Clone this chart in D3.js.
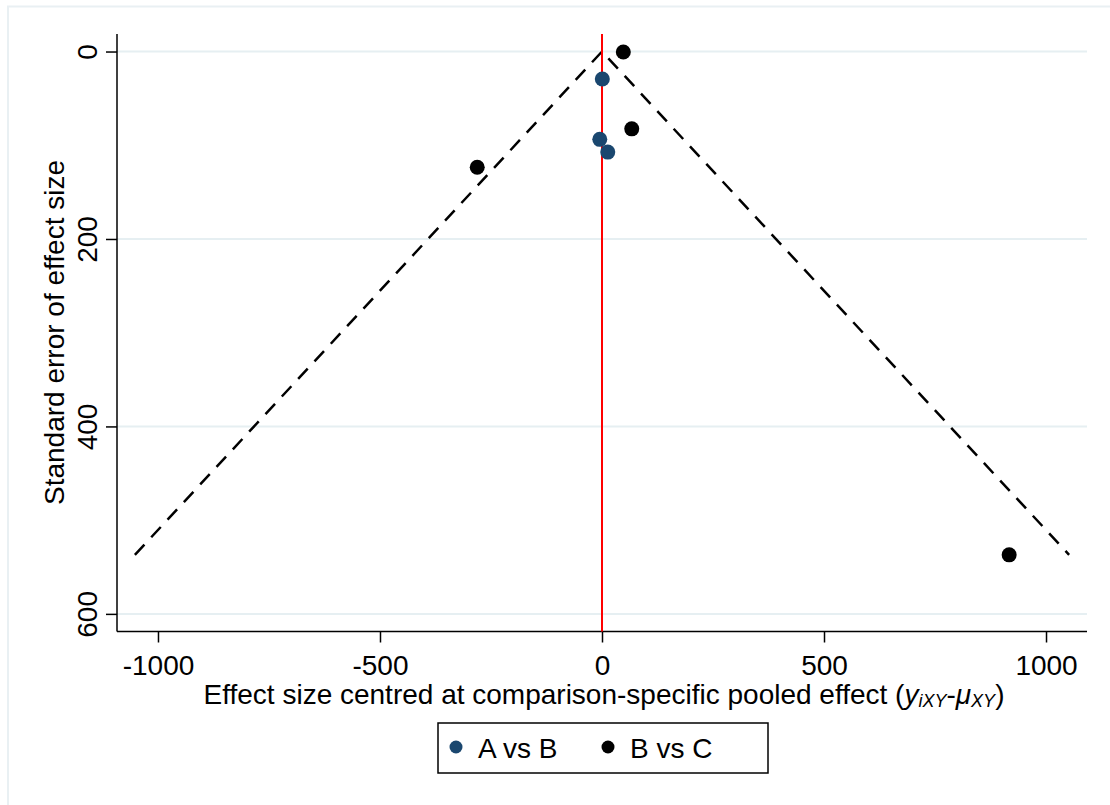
<!DOCTYPE html>
<html><head><meta charset="utf-8">
<script src="https://cdn.jsdelivr.net/npm/d3@7"></script>
<style>
html,body{margin:0;padding:0;background:#fff;}
svg{display:block;font-family:"Liberation Sans",Arial,sans-serif;}
</style></head>
<body><svg id="c" width="1110" height="805"></svg>
<script>
// Data
const seriesNames = ["A vs B", "B vs C"];
const seriesColors = ["#1a476f", "#000000"];
const abEffect = [0.7, -5, 13];
const abSE = [29.3, 93.7, 107.3];
const bcEffect = [48, 67, -281, 917];
const bcSE = [0.5, 82.5, 123.5, 537];
const funnelX = [-1052, 0, 1052];
const funnelSE = [537, 0, 537];
const xTicks = [-1000, -500, 0, 500, 1000];
const yTicks = [0, 200, 400, 600];

const svg = d3.select("#c");
const FS = 28;
const fmt = d => String(d);

// outer graph frame
svg.append("rect").attr("x", 8).attr("y", 6.5).attr("width", 1120).attr("height", 820)
  .attr("fill", "none").attr("stroke", "#e9f0f3").attr("stroke-width", 2);

const L = 117, R = 1087, T = 34, B = 631.5;
const x = d3.scaleLinear().domain([-1092.3, 1092.3]).range([L, R]);
const y = d3.scaleLinear().domain([-18.7, 618.8]).range([T, B]);

// gridlines
svg.append("g").selectAll("line").data(yTicks).join("line")
  .attr("x1", L).attr("x2", R).attr("y1", d => y(d)).attr("y2", d => y(d))
  .attr("stroke", "#e6eff2").attr("stroke-width", 2);

// axes
const yAxis = svg.append("g").attr("transform", `translate(${L},0)`)
  .call(d3.axisLeft(y).tickValues(yTicks).tickFormat(fmt).tickSize(11).tickSizeOuter(0));
yAxis.select(".domain").attr("stroke", "#000").attr("stroke-width", 1.5).attr("d", `M0,${T}V${B}`);
yAxis.selectAll(".tick line").attr("stroke", "#000").attr("stroke-width", 1.5);
yAxis.selectAll(".tick text").attr("font-size", FS).attr("fill", "#000")
  .attr("text-anchor", "middle").attr("dy", 0)
  .attr("transform", "translate(-20,0) rotate(-90)").attr("x", 0).attr("y", 0);

const xAxis = svg.append("g").attr("transform", `translate(0,${B})`)
  .call(d3.axisBottom(x).tickValues(xTicks).tickFormat(fmt).tickSize(11).tickSizeOuter(0));
xAxis.select(".domain").attr("stroke", "#000").attr("stroke-width", 1.5).attr("d", `M${L},0H${R}`);
xAxis.selectAll(".tick line").attr("stroke", "#000").attr("stroke-width", 1.5);
xAxis.selectAll(".tick text").attr("font-size", FS).attr("fill", "#000").attr("dy", 0).attr("y", 43);

// funnel
svg.append("path")
  .datum(funnelX.map((v, i) => [v, funnelSE[i]]))
  .attr("d", d3.line().x(d => x(d[0])).y(d => y(d[1])))
  .attr("fill", "none").attr("stroke", "#000").attr("stroke-width", 2.5)
  .attr("stroke-dasharray", "14,10");

// red reference line
svg.append("line").attr("x1", x(0)).attr("x2", x(0)).attr("y1", T).attr("y2", B)
  .attr("stroke", "#ff0000").attr("stroke-width", 2);

// points
const ptsAB = abEffect.map((v, i) => ({x: v, y: abSE[i]}));
const ptsBC = bcEffect.map((v, i) => ({x: v, y: bcSE[i]}));
[ptsAB, ptsBC].forEach((pts, k) => {
  svg.append("g").selectAll("circle").data(pts).join("circle")
    .attr("cx", d => x(d.x)).attr("cy", d => y(d.y)).attr("r", 7.5)
    .attr("fill", seriesColors[k]);
});

// y title
svg.append("text").attr("transform", `translate(64,${(34+631)/2}) rotate(-90)`)
  .attr("text-anchor", "middle").attr("font-size", FS).attr("fill", "#000")
  .text("Standard error of effect size");

// x title
const xt = svg.append("text").attr("x", 604).attr("y", 704).attr("text-anchor", "middle")
  .attr("font-size", FS).attr("fill", "#000");
xt.append("tspan").text("Effect size centred at comparison-specific pooled effect (");
xt.append("tspan").attr("font-style", "italic").text("y");
xt.append("tspan").attr("font-style", "italic").attr("font-size", 18).attr("dy", 3).text("iXY");
xt.append("tspan").attr("dy", -3).text("-");
xt.append("tspan").attr("font-style", "italic").text("μ");
xt.append("tspan").attr("font-style", "italic").attr("font-size", 18).attr("dy", 3).text("XY");
xt.append("tspan").attr("dy", -3).text(")");

// legend
const lg = svg.append("g");
lg.append("rect").attr("x", 438).attr("y", 723).attr("width", 330).attr("height", 50)
  .attr("fill", "#fff").attr("stroke", "#000").attr("stroke-width", 1.5);
const legX = [456, 608];
seriesNames.forEach((n, i) => {
  lg.append("circle").attr("cx", legX[i]).attr("cy", 747).attr("r", 6.5).attr("fill", seriesColors[i]);
  lg.append("text").attr("x", legX[i] + 22).attr("y", 758).attr("font-size", FS).attr("fill", "#000").text(n);
});
</script></body></html>
